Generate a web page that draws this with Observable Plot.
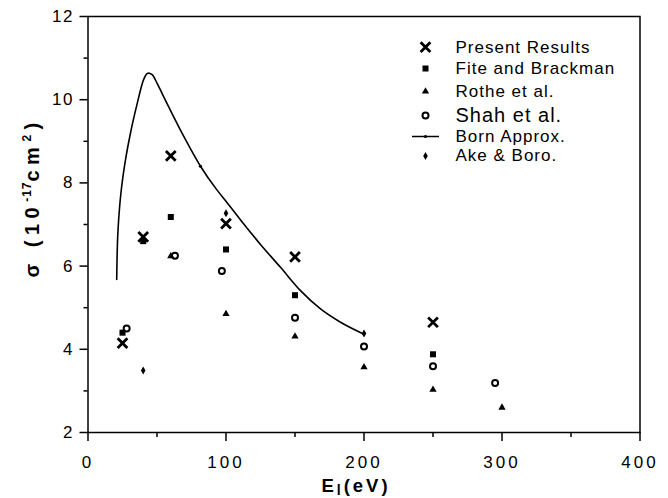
<!DOCTYPE html>
<html><head><meta charset="utf-8">
<script src="https://cdn.jsdelivr.net/npm/d3@7"></script>
<script src="https://cdn.jsdelivr.net/npm/@observablehq/plot@0.6"></script>
<style>body{margin:0;background:#fff}</style>
</head><body><div id="chart"></div>
<script>
// ---- data ----
const xPresent = [25, 40, 60, 100, 150, 250];
const yPresent = [4.15, 6.7, 8.65, 7.02, 6.22, 4.65];
const xFite = [25, 40, 60, 100, 150, 250];
const yFite = [4.4, 6.6, 7.18, 6.4, 5.3, 3.88];
const xRothe = [60, 100, 150, 200, 250, 300];
const yRothe = [6.24, 4.85, 4.31, 3.57, 3.03, 2.6];
const xShah = [28, 63, 97, 150, 200, 250, 295];
const yShah = [4.5, 6.25, 5.88, 4.76, 4.07, 3.59, 3.19];
const xAke = [40, 100, 200];
const yAke = [3.49, 7.27, 4.38];
const xBorn = [20.8, 21.0, 21.4, 22.0, 22.8, 23.8, 25.2, 27.2, 30.8, 35.6, 40.5, 43.6, 46.5, 50, 54, 61, 70, 81.5, 93, 100, 112, 125, 139.5, 154, 168.5, 183, 199.5];
const yBorn = [5.68, 6.1, 6.6, 7.0, 7.38, 7.74, 8.12, 8.56, 9.2, 9.9, 10.5, 10.64, 10.6, 10.4, 10.13, 9.66, 9.08, 8.4, 7.85, 7.56, 7.05, 6.52, 5.97, 5.41, 4.97, 4.65, 4.37];
const xBornMark = [81.5];
const yBornMark = [8.4];
const xTicks = [0, 100, 200, 300, 400];
const xMinor = [50, 150, 250, 350];
const yTicks = [2, 4, 6, 8, 10, 12];
const yMinor = [3, 5, 7, 9, 11];
const legendLabels = ["Present Results", "Fite and Brackman", "Rothe et al.", "Shah et al.", "Born Approx.", "Ake & Boro."];
const yLabel = "σ (10-17 cm2)";
const xLabel = "El(eV)";

// ---- styles ----
const K = "#000";
const S = {
  present: {symbol: "times", r: 4.5, stroke: K, strokeWidth: 2.8, fill: "none"},
  fite: {symbol: "square", r: 3.4, fill: K, stroke: "none"},
  rothe: {symbol: "triangle", r: 2.7, fill: K, stroke: "none"},
  shah: {symbol: "circle", r: 3, fill: "none", stroke: K, strokeWidth: 2},
  ake: {symbol: "diamond", r: 2.4, fill: K, stroke: "none"}
};
const lineSym = {draw(ctx) { ctx.moveTo(-13.5, 0); ctx.lineTo(13.5, 0); }};
const rowDy = [30.7, 52, 75, 99, 120, 139.5];
const symDx = 337.5, txtDx = 367.5;

function legendRow(i, opts) {
  const marks = [];
  const base = {frameAnchor: "top-left", dx: symDx, dy: rowDy[i]};
  if (opts) marks.push(Plot.dot([legendLabels[i]], {...base, ...opts}));
  marks.push(Plot.text([legendLabels[i]], {frameAnchor: "top-left", dx: txtDx, dy: rowDy[i], text: d => d,
    textAnchor: "start", lineAnchor: "middle", fontSize: i === 3 ? 20 : 17, fill: K}));
  return marks;
}

const chart = Plot.plot({
  width: 668, height: 498,
  marginLeft: 87.5, marginRight: 28.5, marginTop: 16, marginBottom: 66,
  x: {domain: [0, 400]},
  y: {domain: [2, 12]},
  style: {fontFamily: "'Liberation Sans', Arial, Helvetica, sans-serif", color: "#000", background: "#fff", overflow: "visible"},
  marks: [
    Plot.frame({stroke: K, strokeWidth: 1.5}),
    Plot.axisX({ticks: xTicks, tickSize: 9, tickPadding: 14, label: null, strokeWidth: 1.5, fontSize: 17}),
    Plot.axisX({ticks: xMinor, tickSize: 5, label: null, strokeWidth: 1.5, tickFormat: () => ""}),
    Plot.axisY({ticks: yTicks, tickSize: 8, tickPadding: 6, label: null, strokeWidth: 1.5, fontSize: 17}),
    Plot.axisY({ticks: yMinor, tickSize: 4, label: null, strokeWidth: 1.5, tickFormat: () => ""}),
    Plot.line(xBorn, {x: xBorn, y: yBorn, curve: "monotone-x", stroke: K, strokeWidth: 1.6}),
    Plot.dot(xBornMark, {x: xBornMark, y: yBornMark, r: 1.6, fill: K}),
    Plot.dot(xFite, {x: xFite, y: yFite, ...S.fite}),
    Plot.dot(xRothe, {x: xRothe, y: yRothe, ...S.rothe}),
    Plot.dot(xShah, {x: xShah, y: yShah, ...S.shah}),
    Plot.dot(xAke, {x: xAke, y: yAke, ...S.ake}),
    Plot.dot(xPresent, {x: xPresent, y: yPresent, ...S.present}),
    ...legendRow(0, S.present),
    ...legendRow(1, S.fite),
    ...legendRow(2, S.rothe),
    ...legendRow(3, S.shah),
    ...legendRow(4, {symbol: lineSym, stroke: K, strokeWidth: 1.5, fill: "none"}),
    Plot.dot([legendLabels[4]], {frameAnchor: "top-left", dx: symDx, dy: rowDy[4], r: 1.6, fill: K}),
    ...legendRow(5, S.ake),
    Plot.text([yLabel], {frameAnchor: "left", dx: -55, dy: 53, rotate: -90, text: d => d, textAnchor: "start", lineAnchor: "middle", fontSize: 20, fontWeight: "bold", fill: K}),
    Plot.text([xLabel], {frameAnchor: "bottom", dx: -8, dy: 53.5, text: d => d, textAnchor: "middle", lineAnchor: "middle", fontSize: 18.5, fontWeight: "bold", fill: K})
  ]
});
document.getElementById("chart").appendChild(chart);

// ---- typographic touches ----
const svg = d3.select(chart);
const xTickStr = new Set(xTicks.map(String));
const yTickStr = new Set(yTicks.map(String));
const legendSet = new Set(legendLabels);
svg.selectAll("text").each(function() {
  const t = d3.select(this);
  const s = this.textContent;
  const g = this.parentNode && this.parentNode.getAttribute("aria-label") || "";
  if (g.startsWith("x-axis") && xTickStr.has(s)) t.style("letter-spacing", "3px");
  else if (g.startsWith("y-axis") && yTickStr.has(s)) t.style("letter-spacing", "1.5px");
  else if (legendSet.has(s)) t.style("letter-spacing", "1px");
  else if (s === yLabel) {
    t.text(null).style("letter-spacing", "5.5px");
    t.append("tspan").text("σ (10");
    t.append("tspan").attr("font-size", "12px").attr("baseline-shift", "8px").style("letter-spacing", "1px").text("-17");
    t.append("tspan").text("cm");
    t.append("tspan").attr("font-size", "12px").attr("baseline-shift", "8px").text("2");
    t.append("tspan").text(")");
  } else if (s === xLabel) {
    t.text(null).style("letter-spacing", "3px");
    t.append("tspan").text("E");
    t.append("tspan").attr("font-size", "14px").attr("baseline-shift", "-3px").text("l");
    t.append("tspan").text("(eV)");
  }
});
</script>
</body></html>
